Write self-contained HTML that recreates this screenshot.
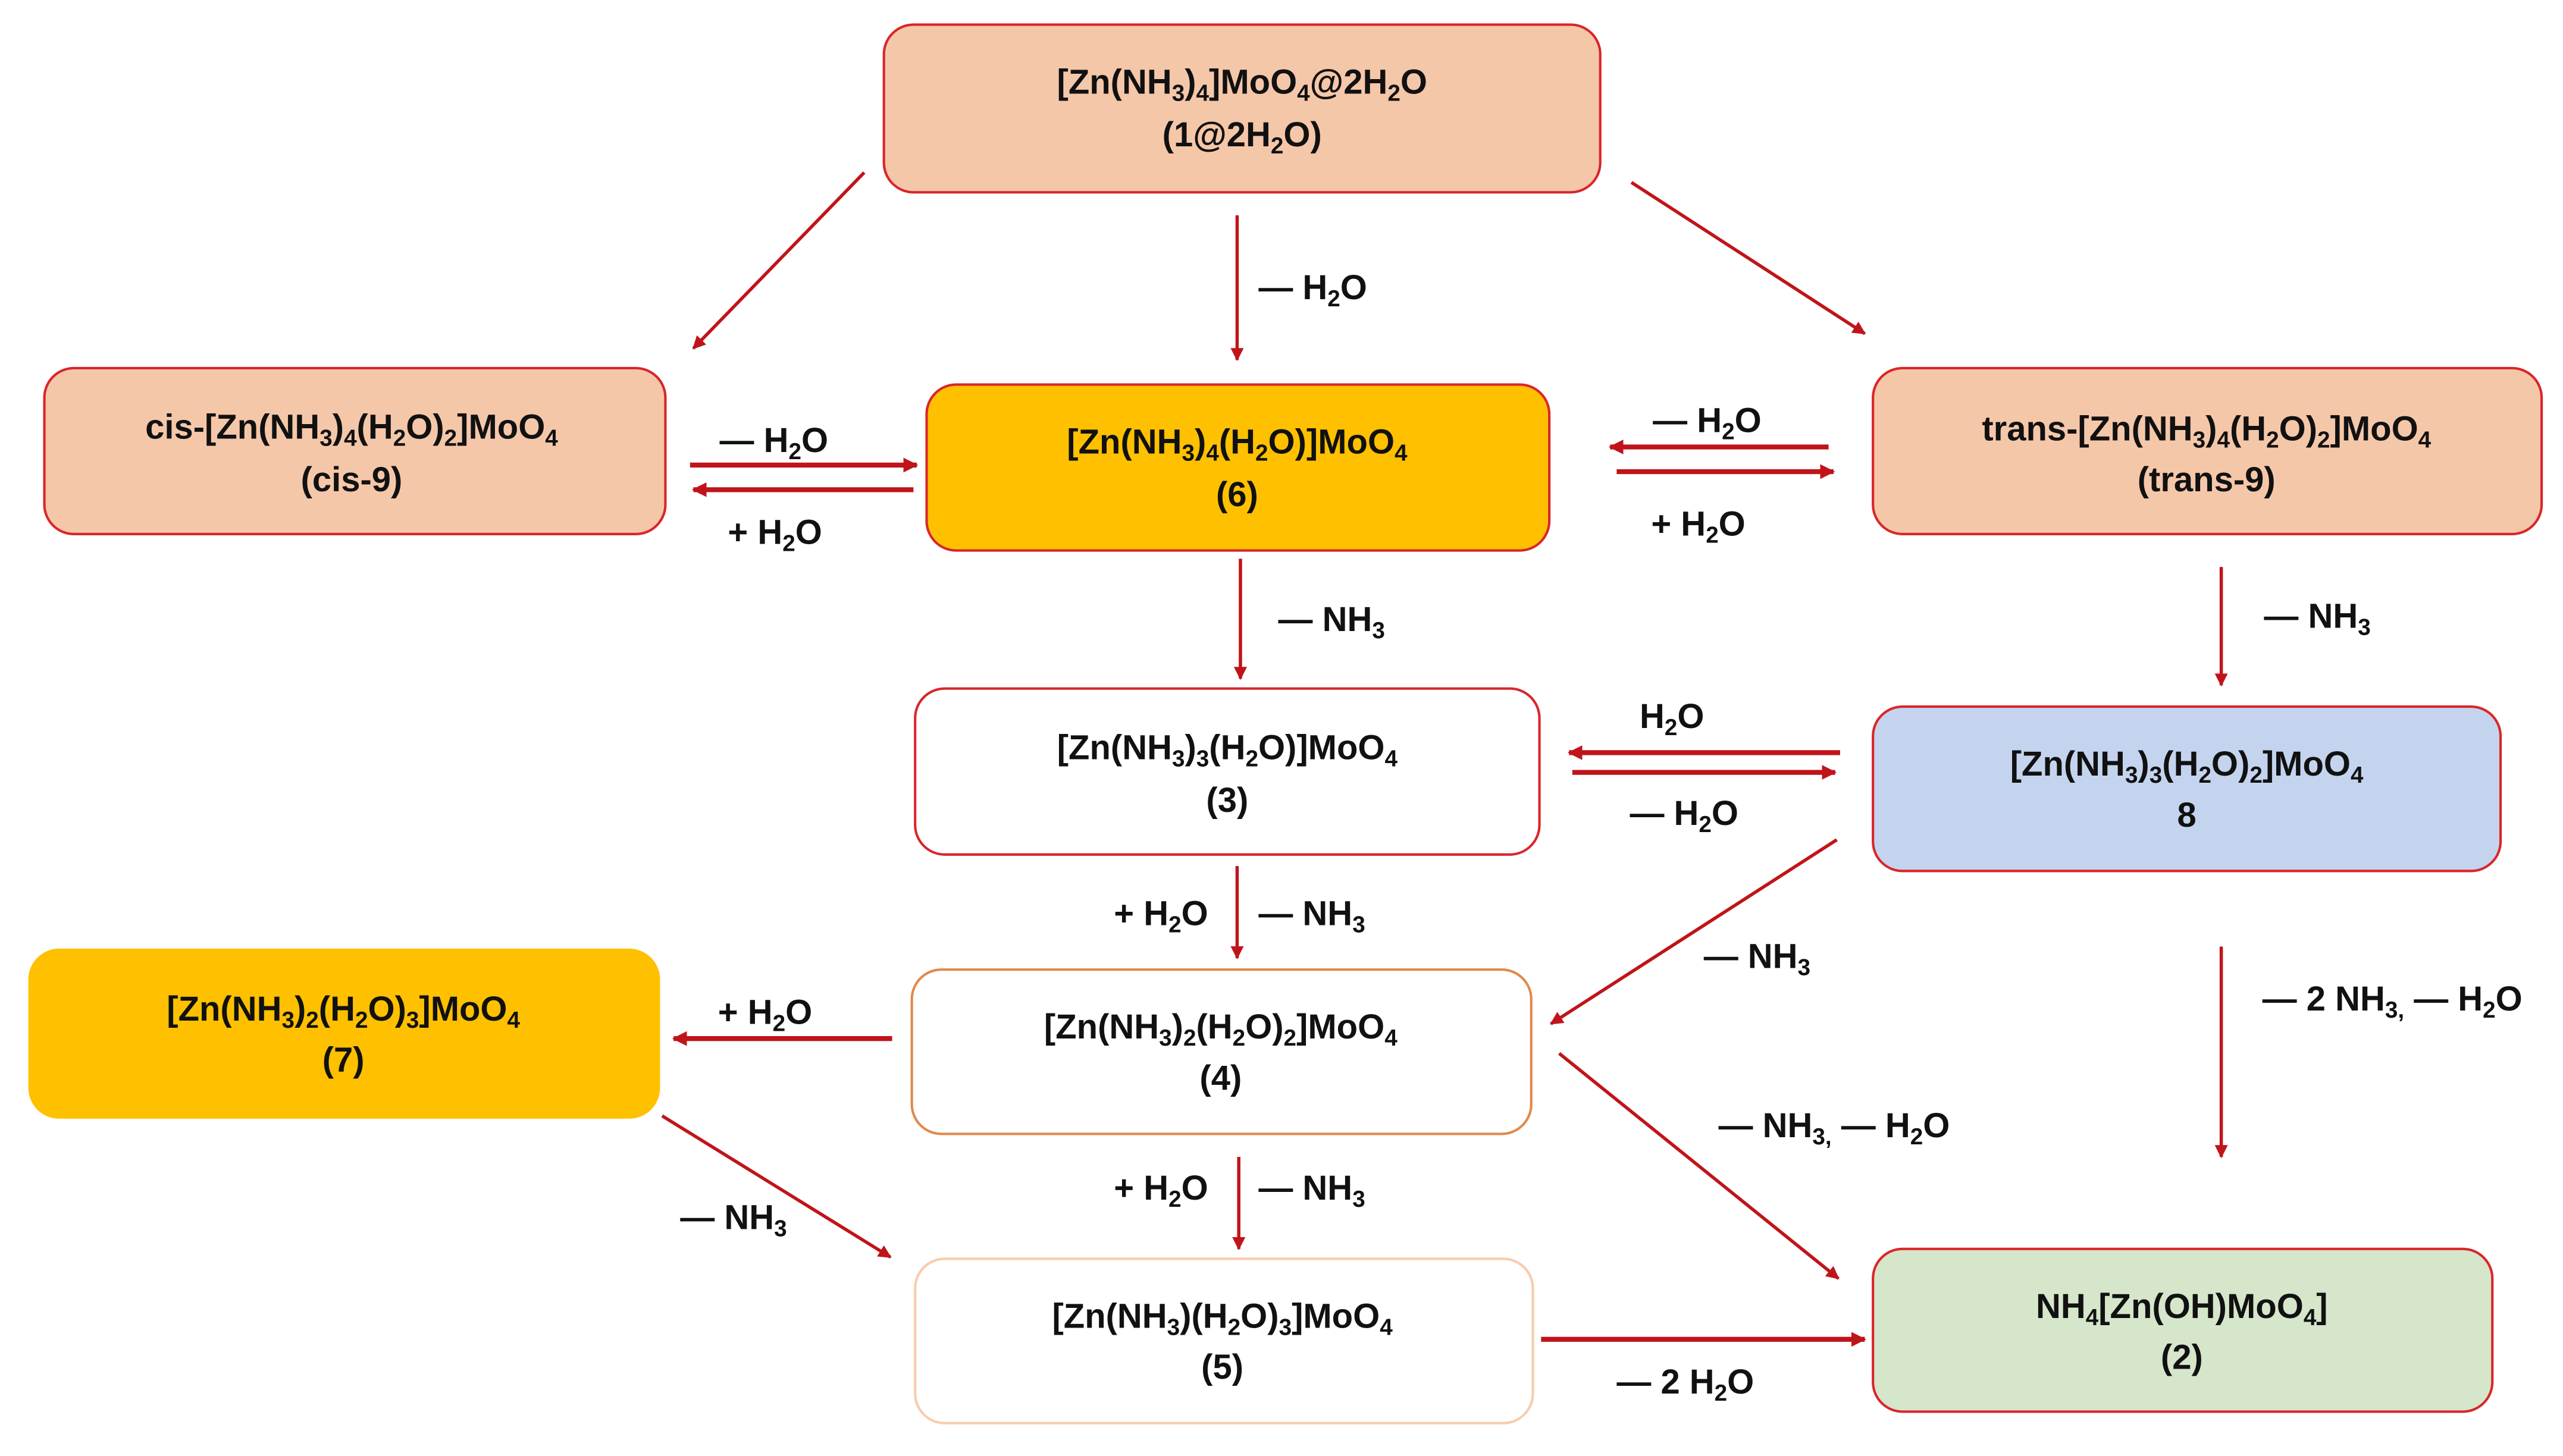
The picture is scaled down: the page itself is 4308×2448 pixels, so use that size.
<!DOCTYPE html>
<html><head><meta charset="utf-8"><style>
html,body{margin:0;padding:0;background:#fff;}
svg{display:block;}
text{font-family:"Liberation Sans Narrow","Liberation Sans",sans-serif;font-weight:bold;font-size:21px;fill:#111;}
.s{font-size:14px;baseline-shift:-30%;}
.m{text-anchor:middle;}
line{stroke:#C0141A;stroke-width:2;}
.t{stroke-width:3;}
</style></head><body>
<svg width="4308" height="2448" viewBox="0 0 1560 886" preserveAspectRatio="none" xmlns="http://www.w3.org/2000/svg">
<defs>
<marker id="a" viewBox="0 0 10 10" refX="9" refY="5" markerWidth="4" markerHeight="4" orient="auto" markerUnits="strokeWidth"><path d="M0,0 L10,5 L0,10 z" fill="#C0141A"/></marker>
<marker id="b" viewBox="0 0 10 10" refX="9" refY="5" markerWidth="3" markerHeight="3" orient="auto" markerUnits="strokeWidth"><path d="M0,0 L10,5 L0,10 z" fill="#C0141A"/></marker>
</defs>
<!-- boxes -->
<rect x="538" y="15" width="436" height="102" rx="18" fill="#F5C7A9" stroke="#D9262A" stroke-width="1.5"/>
<rect x="27" y="224" width="378" height="101" rx="18" fill="#F5C7A9" stroke="#D9262A" stroke-width="1.5"/>
<rect x="564" y="234" width="379" height="101" rx="18" fill="#FFC000" stroke="#D9262A" stroke-width="1.5"/>
<rect x="1140" y="224" width="407" height="101" rx="18" fill="#F5C7A9" stroke="#D9262A" stroke-width="1.5"/>
<rect x="557" y="419" width="380" height="101" rx="18" fill="#fff" stroke="#D9262A" stroke-width="1.5"/>
<rect x="1140" y="430" width="382" height="100" rx="18" fill="#C5D4EE" stroke="#D9262A" stroke-width="1.5"/>
<rect x="18" y="578" width="383" height="102" rx="18" fill="#FFC000" stroke="#FFC000" stroke-width="1.5"/>
<rect x="555" y="590" width="377" height="100" rx="18" fill="#fff" stroke="#E08A4A" stroke-width="1.5"/>
<rect x="557" y="766" width="376" height="100" rx="18" fill="#fff" stroke="#F8CBAD" stroke-width="1.5"/>
<rect x="1140" y="760" width="377" height="99" rx="18" fill="#D5E6CB" stroke="#D9262A" stroke-width="1.5"/>
<!-- box text -->
<text class="m" x="756" y="57">[Zn(NH<tspan class="s">3</tspan>)<tspan class="s">4</tspan>]MoO<tspan class="s">4</tspan>@2H<tspan class="s">2</tspan>O</text>
<text class="m" x="756" y="89">(1@2H<tspan class="s">2</tspan>O)</text>
<text class="m" x="214" y="267">cis-[Zn(NH<tspan class="s">3</tspan>)<tspan class="s">4</tspan>(H<tspan class="s">2</tspan>O)<tspan class="s">2</tspan>]MoO<tspan class="s">4</tspan></text>
<text class="m" x="214" y="299">(cis-9)</text>
<text class="m" x="753" y="276">[Zn(NH<tspan class="s">3</tspan>)<tspan class="s">4</tspan>(H<tspan class="s">2</tspan>O)]MoO<tspan class="s">4</tspan></text>
<text class="m" x="753" y="308">(6)</text>
<text class="m" x="1343" y="268">trans-[Zn(NH<tspan class="s">3</tspan>)<tspan class="s">4</tspan>(H<tspan class="s">2</tspan>O)<tspan class="s">2</tspan>]MoO<tspan class="s">4</tspan></text>
<text class="m" x="1343" y="299">(trans-9)</text>
<text class="m" x="747" y="462">[Zn(NH<tspan class="s">3</tspan>)<tspan class="s">3</tspan>(H<tspan class="s">2</tspan>O)]MoO<tspan class="s">4</tspan></text>
<text class="m" x="747" y="494">(3)</text>
<text class="m" x="1331" y="472">[Zn(NH<tspan class="s">3</tspan>)<tspan class="s">3</tspan>(H<tspan class="s">2</tspan>O)<tspan class="s">2</tspan>]MoO<tspan class="s">4</tspan></text>
<text class="m" x="1331" y="503">8</text>
<text class="m" x="209" y="621">[Zn(NH<tspan class="s">3</tspan>)<tspan class="s">2</tspan>(H<tspan class="s">2</tspan>O)<tspan class="s">3</tspan>]MoO<tspan class="s">4</tspan></text>
<text class="m" x="209" y="652">(7)</text>
<text class="m" x="743" y="632">[Zn(NH<tspan class="s">3</tspan>)<tspan class="s">2</tspan>(H<tspan class="s">2</tspan>O)<tspan class="s">2</tspan>]MoO<tspan class="s">4</tspan></text>
<text class="m" x="743" y="663">(4)</text>
<text class="m" x="744" y="808">[Zn(NH<tspan class="s">3</tspan>)(H<tspan class="s">2</tspan>O)<tspan class="s">3</tspan>]MoO<tspan class="s">4</tspan></text>
<text class="m" x="744" y="839">(5)</text>
<text class="m" x="1328" y="802">NH<tspan class="s">4</tspan>[Zn(OH)MoO<tspan class="s">4</tspan>]</text>
<text class="m" x="1328" y="833">(2)</text>
<!-- arrows -->
<line x1="526" y1="105" x2="422" y2="212" marker-end="url(#a)"/>
<line x1="753" y1="131" x2="753" y2="219" marker-end="url(#a)"/>
<line x1="993" y1="111" x2="1135" y2="203" marker-end="url(#a)"/>
<line class="t" x1="420" y1="283" x2="558" y2="283" marker-end="url(#b)"/>
<line class="t" x1="556" y1="298" x2="422" y2="298" marker-end="url(#b)"/>
<line class="t" x1="1113" y1="272" x2="980" y2="272" marker-end="url(#b)"/>
<line class="t" x1="984" y1="287" x2="1116" y2="287" marker-end="url(#b)"/>
<line x1="755" y1="340" x2="755" y2="413" marker-end="url(#a)"/>
<line x1="1352" y1="345" x2="1352" y2="417" marker-end="url(#a)"/>
<line class="t" x1="1120" y1="458" x2="955" y2="458" marker-end="url(#b)"/>
<line class="t" x1="957" y1="470" x2="1117" y2="470" marker-end="url(#b)"/>
<line x1="753" y1="527" x2="753" y2="583" marker-end="url(#a)"/>
<line x1="1118" y1="511" x2="944" y2="623" marker-end="url(#a)"/>
<line class="t" x1="543" y1="632" x2="410" y2="632" marker-end="url(#b)"/>
<line x1="1352" y1="576" x2="1352" y2="704" marker-end="url(#a)"/>
<line x1="949" y1="641" x2="1119" y2="778" marker-end="url(#a)"/>
<line x1="403" y1="679" x2="542" y2="765" marker-end="url(#a)"/>
<line x1="754" y1="704" x2="754" y2="760" marker-end="url(#a)"/>
<line class="t" x1="938" y1="815" x2="1135" y2="815" marker-end="url(#b)"/>
<!-- labels -->
<text x="766" y="182">— H<tspan class="s">2</tspan>O</text>
<text x="438" y="275">— H<tspan class="s">2</tspan>O</text>
<text x="443" y="331">+ H<tspan class="s">2</tspan>O</text>
<text x="1006" y="263">— H<tspan class="s">2</tspan>O</text>
<text x="1005" y="326">+ H<tspan class="s">2</tspan>O</text>
<text x="778" y="384">— NH<tspan class="s">3</tspan></text>
<text x="1378" y="382">—  NH<tspan class="s">3</tspan></text>
<text x="998" y="443">H<tspan class="s">2</tspan>O</text>
<text x="992" y="502">— H<tspan class="s">2</tspan>O</text>
<text x="678" y="563">+ H<tspan class="s">2</tspan>O</text>
<text x="766" y="563">— NH<tspan class="s">3</tspan></text>
<text x="1037" y="589">— NH<tspan class="s">3</tspan></text>
<text x="437" y="623">+ H<tspan class="s">2</tspan>O</text>
<text x="1377" y="615">— 2 NH<tspan class="s">3,</tspan> — H<tspan class="s">2</tspan>O</text>
<text x="1046" y="692">— NH<tspan class="s">3,</tspan> — H<tspan class="s">2</tspan>O</text>
<text x="414" y="748">— NH<tspan class="s">3</tspan></text>
<text x="678" y="730">+ H<tspan class="s">2</tspan>O</text>
<text x="766" y="730">— NH<tspan class="s">3</tspan></text>
<text x="984" y="848">— 2 H<tspan class="s">2</tspan>O</text>
</svg>
</body></html>
